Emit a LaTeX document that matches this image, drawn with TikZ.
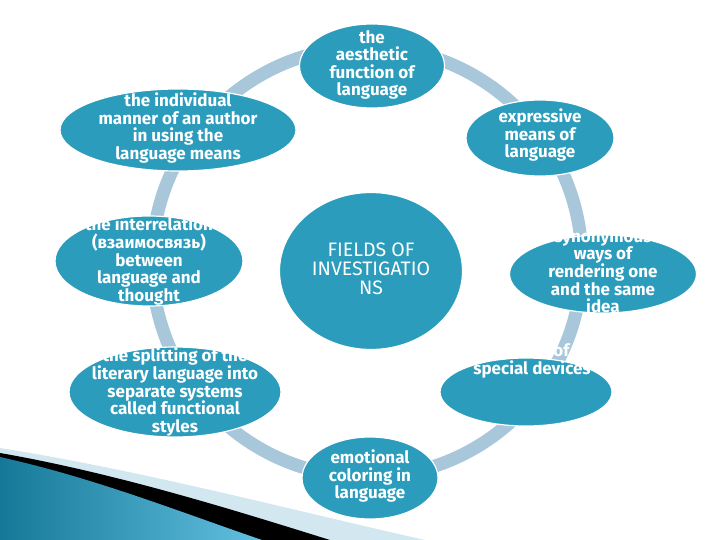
\documentclass[tikz,border=0pt]{standalone}
\usepackage{fontspec}
\setmainfont{Fira Sans}
\usetikzlibrary{shapes.geometric, positioning}
\definecolor{teal1}{RGB}{43,156,188}
\definecolor{ringc}{RGB}{168,199,218}
\definecolor{palec}{RGB}{210,231,240}
\definecolor{deept}{RGB}{22,120,152}
\definecolor{lightt}{RGB}{98,192,224}

\begin{document}
\begin{tikzpicture}[
			x=1pt, y=-1pt,
			blob/.style={
				ellipse, fill=teal1, draw=white, line width=1.2pt,
				inner sep=0pt
			},
			txt/.style={
				text=white, align=center, font=\fontsize{17}{17.6}\selectfont\bfseries
			}
			]
			
			\useasboundingbox (0,0) rectangle (720,540);
			
			% ring behind everything
			\draw[ringc, line width=13pt] (367,262) circle [radius=215];
			
			% corner swoosh
			\fill[palec] (0,448) .. controls (140,470) and (300,512) .. (425,540) -- (0,540) -- cycle;
			\fill[black] (0,453) .. controls (120,474) and (240,512) .. (330,540) -- (0,540) -- cycle;
			\shade[left color=deept, right color=lightt] (0,457) .. controls (95,478) and (180,512) .. (262,540) -- (0,540) -- cycle;
			
			\path
			(372,66)  node [blob, minimum width=145, minimum height=84] (aes) {}
			(540,138) node [blob, minimum width=148, minimum height=76] (expr) {}
			(603,274) node [blob, minimum width=187, minimum height=78] (syn) {}
			(526,392) node [blob, minimum width=172, minimum height=68] (sys) {}
			(370,478) node [blob, minimum width=136, minimum height=82] (emo) {}
			(175,392) node [blob, minimum width=212, minimum height=90] (split) {}
			(149,261) node [blob, minimum width=188, minimum height=90] (inter) {}
			(178,130) node [blob, minimum width=236, minimum height=82] (indiv) {}
			(371,271) node [blob, minimum width=183, minimum height=157] (fields) {};
			
			\node [txt] at ([yshift=1]aes) {the\\aesthetic\\function of\\language};
			\node [txt] at ([yshift=3]expr) {expressive\\means of\\language};
			\node [txt] at ([yshift=1]syn) {synonymous\\ways of\\rendering one\\and the same\\idea};
			\node [txt] at ([xshift=6, yshift=31]sys) {system of\\special devices};
			\node [txt] at ([yshift=2]emo) {emotional\\coloring in\\language};
			\node [txt] at (split) {the splitting of the\\literary language into\\separate systems\\called functional\\styles};
			\node [txt] at (inter) {the interrelation\\(взаимосвязь)\\between\\language and\\thought};
			\node [txt] at ([yshift=2]indiv) {the individual\\manner of an author\\in using the\\language means};
			\node [txt, font=\fontsize{19.5}{19}\selectfont] at ([yshift=2]fields) {FIELDS OF\\INVESTIGATIO\\NS};
		\end{tikzpicture}
\end{document}
